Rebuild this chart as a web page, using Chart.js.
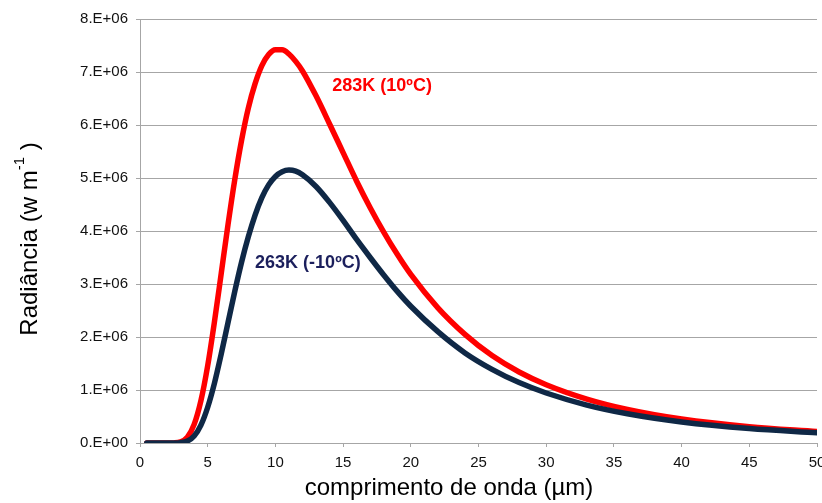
<!DOCTYPE html>
<html>
<head>
<meta charset="utf-8">
<script src="https://cdn.jsdelivr.net/npm/chart.js@4.4.1/dist/chart.umd.min.js"></script>
<style>
html,body{margin:0;padding:0;background:#fff;}
#wrap{width:822px;height:503px;position:relative;}
</style>
</head>
<body>
<div id="wrap"><canvas id="c" width="822" height="503"></canvas></div>
<script>
// wavelength (µm)
const wavelength = [0.5,1,2,2.5,3,3.5,4,4.5,5,5.5,6,6.5,7,7.5,8,8.5,9,9.5,10,10.5,11,11.5,12,13,14,15,16,17,18,19,20,22,24,26,28,30,33,36,40,45,50];
// radiance 283K (10ºC)
const rad283 = [0,0,0,2e3,2.1e4,1.11e5,3.51e5,8.0e5,1.46e6,2.29e6,3.20e6,4.12e6,4.97e6,5.71e6,6.32e6,6.78e6,7.12e6,7.33e6,7.42e6,7.42e6,7.34e6,7.20e6,7.02e6,6.55e6,6.02e6,5.48e6,4.94e6,4.44e6,3.98e6,3.56e6,3.18e6,2.55e6,2.05e6,1.65e6,1.34e6,1.10e6,0.83e6,0.634e6,0.453e6,0.308e6,0.216e6];
// radiance 263K (-10ºC)
const rad263 = [0,0,0,0,5.9e3,3.7e4,1.33e5,3.38e5,6.75e5,1.13e6,1.68e6,2.27e6,2.86e6,3.41e6,3.89e6,4.30e6,4.63e6,4.87e6,5.03e6,5.12e6,5.15e6,5.13e6,5.06e6,4.84e6,4.54e6,4.20e6,3.84e6,3.50e6,3.17e6,2.86e6,2.58e6,2.10e6,1.70e6,1.39e6,1.14e6,0.943e6,0.716e6,0.551e6,0.397e6,0.272e6,0.192e6];
const yTickLabels = ['0.E+00','1.E+06','2.E+06','3.E+06','4.E+06','5.E+06','6.E+06','7.E+06','8.E+06'];
const seriesLabels = ['283K (10ºC)','263K (-10ºC)'];
const labelAnchors = [[14.2,6.74e6],[8.5,3.4e6]];

const RED = '#ff0000', NAVY = '#0f2846', NAVYTXT = '#1b1f5c';
const FONT = '"Liberation Sans", Arial, sans-serif';

const pts = (ys) => wavelength.map((x,i)=>({x:x,y:ys[i]}));

const textPlugin = {
  id:'texts',
  afterDraw(chart){
    const ctx = chart.ctx, xs = chart.scales.x, ys = chart.scales.y;
    ctx.save();
    ctx.font = 'bold 18px ' + FONT;
    ctx.textBaseline = 'middle';
    ctx.textAlign = 'left';
    const cols = [RED, NAVYTXT];
    labelAnchors.forEach((a,i)=>{
      ctx.fillStyle = cols[i];
      ctx.fillText(seriesLabels[i], xs.getPixelForValue(a[0]), ys.getPixelForValue(a[1]));
    });
    // x title
    ctx.fillStyle = '#000';
    ctx.font = '24px ' + FONT;
    ctx.textAlign = 'center';
    ctx.fillText('comprimento de onda (µm)', 449, 488);
    // y title with superscript
    ctx.translate(30, 239);
    ctx.rotate(-Math.PI/2);
    const main = 'Radiância (w m';
    const sup = '-1';
    const end = ' )';
    ctx.font = '24px ' + FONT;
    const w1 = ctx.measureText(main).width;
    const w3 = ctx.measureText(end).width;
    ctx.font = '15px ' + FONT;
    const w2 = ctx.measureText(sup).width;
    let x0 = -(w1+w2+w3)/2;
    ctx.textAlign = 'left';
    ctx.font = '24px ' + FONT;
    ctx.fillText(main, x0, 0);
    ctx.font = '15px ' + FONT;
    ctx.fillText(sup, x0+w1, -10);
    ctx.font = '24px ' + FONT;
    ctx.fillText(end, x0+w1+w2, 0);
    ctx.restore();
  }
};

new Chart(document.getElementById('c'), {
  type:'line',
  data:{
    datasets:[
      {label:seriesLabels[1], data:pts(rad263), borderColor:NAVY, borderWidth:5.5, pointRadius:0, cubicInterpolationMode:'monotone', fill:false, borderCapStyle:'round'},
      {label:seriesLabels[0], data:pts(rad283), borderColor:RED, borderWidth:5.5, pointRadius:0, cubicInterpolationMode:'monotone', fill:false, borderCapStyle:'round'}
    ]
  },
  options:{
    responsive:false, animation:false,
    layout:{padding:{top:19,right:5,left:0,bottom:0}},
    plugins:{legend:{display:false}, tooltip:{enabled:false}},
    scales:{
      x:{
        type:'linear', min:0, max:50,
        ticks:{stepSize:5, color:'#111', font:{family:FONT, size:15}, padding:7, maxRotation:0},
        grid:{drawOnChartArea:false, drawTicks:true, tickLength:4, color:'#a6a6a6'},
        border:{color:'#a6a6a6'},
        afterFit(s){ s.height = 60; s.paddingRight = 0; s.paddingLeft = 0; }
      },
      y:{
        min:0, max:8e6,
        ticks:{stepSize:1e6, color:'#111', font:{family:FONT, size:15}, padding:8,
          callback:(v)=> yTickLabels[Math.round(v/1e6)]},
        grid:{color:'#a6a6a6', tickLength:4},
        border:{color:'#a6a6a6'},
        afterFit(s){ s.width = 140; s.paddingTop = 0; s.paddingBottom = 0; }
      }
    }
  },
  plugins:[textPlugin]
});
</script>
</body>
</html>
